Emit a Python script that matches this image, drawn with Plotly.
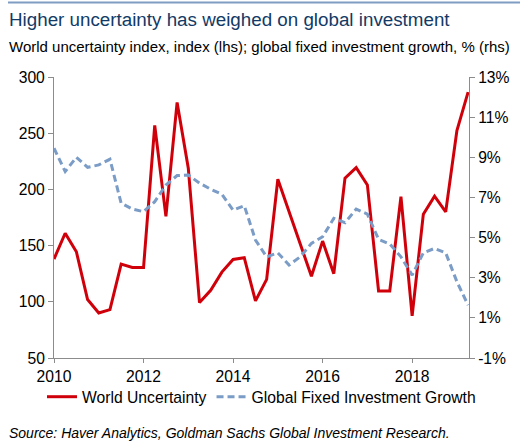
import plotly.graph_objects as go

quarters = [2010 + i * 0.25 for i in range(38)]

world_uncertainty = [138, 161, 144.5, 102, 90, 93, 133.5, 130.5, 130.5, 257, 176, 277.4,
                     218.8, 99.3, 110.3, 126.4, 137.7, 139.2, 100.8, 120, 209, 180.2, 153.4, 122.8,
                     154, 125, 210, 219.4, 204, 109.7, 109.7, 193.6, 87.5, 178, 194, 180, 252.4, 286.6]

investment_growth = [9.45, 8.29, 9.0, 8.5, 8.62, 8.9, 6.71, 6.42, 6.29, 6.79, 7.62, 8.09,
                     8.12, 7.71, 7.41, 7.16, 6.37, 6.59, 4.88, 4.04, 4.24, 3.63, 4.04, 4.71,
                     5.04, 5.96, 5.74, 6.42, 6.17, 4.91, 4.68, 4.04, 3.13, 4.24, 4.46, 4.24, 2.8, 1.63]

x_ticks = [2010, 2012, 2014, 2016, 2018]
left_ticks = [50, 100, 150, 200, 250, 300]
right_ticks = [-1, 1, 3, 5, 7, 9, 11, 13]

FONT = "Liberation Sans, Arial, sans-serif"
AXIS_COL = "#8c8c8c"
FS = 15.7
PL, PT, PW, PH = 54, 77, 415, 281


def px_x(px):
    return (px - PL) / PW


def px_y(py):
    return (PT + PH - py) / PH


fig = go.Figure()
fig.add_trace(go.Scatter(x=quarters, y=world_uncertainty, mode="lines", name="World Uncertainty",
                         line=dict(color="#D0000A", width=3), yaxis="y"))
fig.add_trace(go.Scatter(x=quarters, y=investment_growth, mode="lines",
                         name="Global Fixed Investment Growth",
                         line=dict(color="#7A9CC6", width=3, dash="7px,4px"), yaxis="y2"))

fig.update_layout(
    width=525, height=447,
    margin=dict(l=PL, r=525 - PL - PW, t=PT, b=447 - PT - PH, pad=0, autoexpand=False),
    paper_bgcolor="white", plot_bgcolor="white",
    font=dict(family=FONT, size=FS, color="#000000"),
    showlegend=True,
    legend=dict(orientation="h", x=px_x(42), xanchor="left", y=px_y(397), yanchor="middle",
                font=dict(size=FS), tracegroupgap=0, itemwidth=30,
                bgcolor="rgba(0,0,0,0)"),
    xaxis=dict(range=[2010, 2019.27], tickvals=x_ticks, ticktext=[str(v) for v in x_ticks],
               showline=True, linecolor=AXIS_COL, linewidth=1, ticks="outside",
               tickcolor=AXIS_COL, ticklen=4, showgrid=False, zeroline=False,
               tickfont=dict(size=FS)),
    yaxis=dict(range=[50, 300], tickvals=left_ticks, showline=True, linecolor=AXIS_COL,
               linewidth=1, ticks="outside", tickcolor=AXIS_COL, ticklen=5,
               showgrid=False, zeroline=False, tickfont=dict(size=FS)),
    yaxis2=dict(range=[-1, 13], tickvals=right_ticks, ticktext=[f"{v}%" for v in right_ticks],
                overlaying="y", side="right", showline=True, linecolor=AXIS_COL, linewidth=1,
                ticks="outside", tickcolor=AXIS_COL, ticklen=5, showgrid=False,
                zeroline=False, tickfont=dict(size=FS)),
)

# top rule
fig.add_shape(type="line", xref="paper", yref="paper",
              x0=px_x(8), x1=px_x(520), y0=px_y(2.5), y1=px_y(2.5),
              line=dict(color="#7F9CC2", width=2))

fig.add_annotation(text="Higher uncertainty has weighed on global investment",
                   xref="paper", yref="paper", x=px_x(7), y=px_y(19),
                   xanchor="left", yanchor="middle", showarrow=False,
                   font=dict(size=18.8, color="#123A66", family=FONT))
fig.add_annotation(text="World uncertainty index, index (lhs); global fixed investment growth, % (rhs)",
                   xref="paper", yref="paper", x=px_x(7), y=px_y(46),
                   xanchor="left", yanchor="middle", showarrow=False,
                   font=dict(size=15, color="#000000", family=FONT))
fig.add_annotation(text="<i>Source: Haver Analytics, Goldman Sachs Global Investment Research.</i>",
                   xref="paper", yref="paper", x=px_x(7), y=px_y(433),
                   xanchor="left", yanchor="middle", showarrow=False,
                   font=dict(size=14, color="#000000", family=FONT))

fig.write_html("out.html", config={"displayModeBar": False},
               post_script="document.body.style.margin='0';document.body.style.overflow='hidden';")
